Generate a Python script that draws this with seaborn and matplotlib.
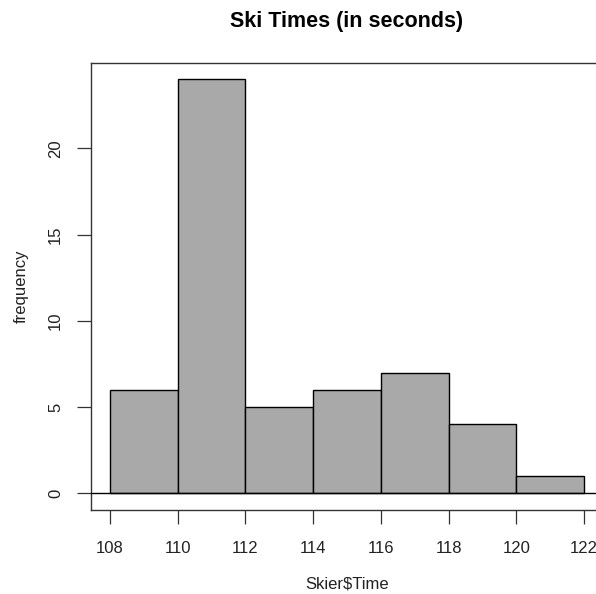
import matplotlib
matplotlib.use("Agg")
import matplotlib.pyplot as plt
import seaborn as sns
import pandas as pd

bin_edges = [108, 110, 112, 114, 116, 118, 120, 122]
counts = [6, 24, 5, 6, 7, 4, 1]
x_ticks = [108, 110, 112, 114, 116, 118, 120, 122]
y_ticks = [0, 5, 10, 15, 20]

centers = [(a + b) / 2 for a, b in zip(bin_edges[:-1], bin_edges[1:])]
df = pd.DataFrame({"Time": centers, "count": counts})

sns.set_style("white")
plt.rcParams['font.family'] = ['Liberation Sans', 'DejaVu Sans']

fig = plt.figure(figsize=(5.96, 5.94), dpi=100)
W, H = 596, 594
L, R, T, B = 91, 603, 62.7, 510
ax = fig.add_axes([L / W, (H - B) / H, (R - L) / W, (B - T) / H])

sns.histplot(data=df, x="Time", weights="count", bins=bin_edges, ax=ax,
             color="#A9A9A9", edgecolor="black", linewidth=1.0, alpha=1.0)
ax.axhline(0, color="black", linewidth=1.0, zorder=3)

ax.set_xlim(107.44, 122.56)
ax.set_ylim(-0.96, 24.96)
ax.set_xticks(x_ticks)
ax.set_yticks(y_ticks)
ax.set_xticklabels([str(v) for v in x_ticks], fontsize=12, color="#222222")
ax.set_yticklabels([str(v) for v in y_ticks], fontsize=12, rotation=90,
                   va="center", color="#222222")
ax.tick_params(axis="both", direction="out", length=10, width=0.9,
               color="#333333", bottom=True, left=True)
ax.tick_params(axis="x", pad=12)
ax.tick_params(axis="y", pad=10)
for s in ax.spines.values():
    s.set_color("#333333")
    s.set_linewidth(1.0)

ax.set_xlabel("Skier$Time", fontsize=12, labelpad=15, color="#222222")
ax.set_ylabel("frequency", fontsize=12, labelpad=14, color="#222222")
fig.text((L + R) / 2 / W, 1 - 22 / H, "Ski Times (in seconds)", ha="center",
         va="center", fontsize=15.5, fontweight="bold", color="black")

fig.savefig("out.png", dpi=100)
